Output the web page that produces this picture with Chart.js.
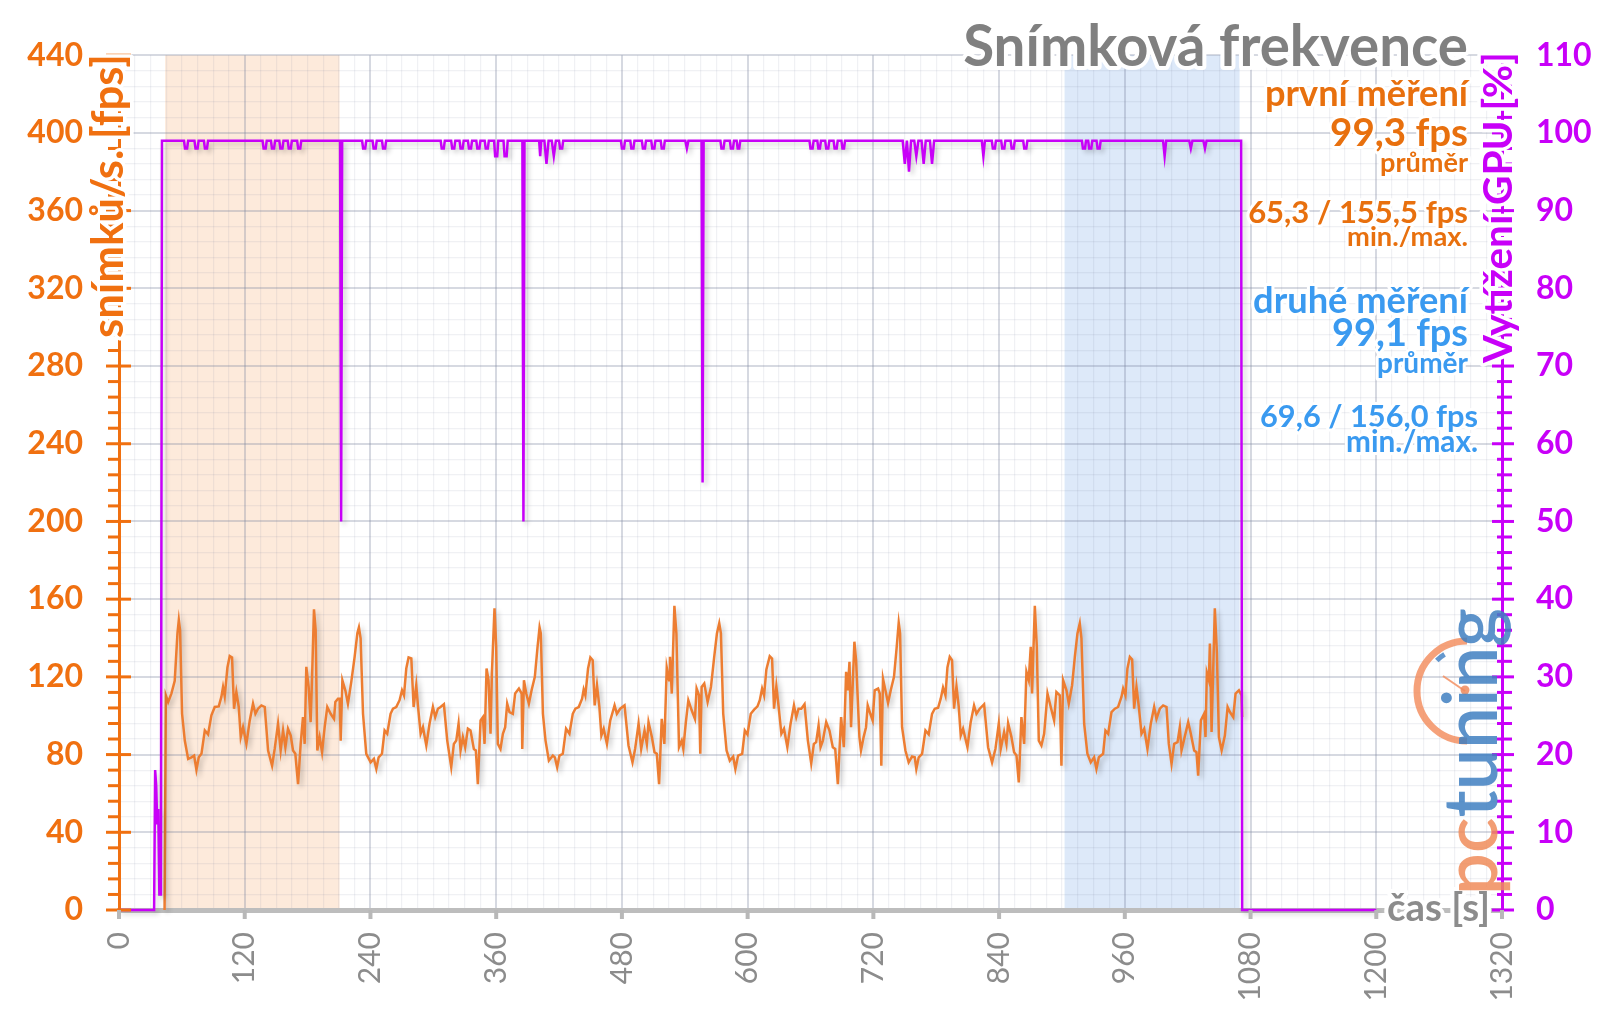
<!DOCTYPE html>
<html>
<head>
<meta charset="utf-8">
<script src="https://cdn.jsdelivr.net/npm/chart.js@4.4.1/dist/chart.umd.min.js"></script>
<style>
  html, body { margin: 0; background: #fff; }
  canvas { display: block; }
</style>
</head>
<body>
<canvas id="chart" width="1600" height="1009"></canvas>
<script>
/* DATA */
const timeTickLabels = [0, 120, 240, 360, 480, 600, 720, 840, 960, 1080, 1200, 1320];
const fpsTickLabels = [0, 40, 80, 120, 160, 200, 240, 280, 320, 360, 400, 440];
const gpuTickLabels = [0, 10, 20, 30, 40, 50, 60, 70, 80, 90, 100, 110];

const firstRun = [44, 210.5];      // shaded span, seconds
const secondRun = [902.5, 1069.5];

const chartTitle = 'Snímková frekvence';
const fpsAxisTitle = 'snímků/s. [fps]';
const gpuAxisTitle = 'Vytížení GPU [%]';
const timeAxisTitle = 'čas [s]';
const firstRunText = ['první měření', '99,3 fps', 'průměr', '65,3 / 155,5 fps', 'min./max.'];
const secondRunText = ['druhé měření', '99,1 fps', 'průměr', '69,6 / 156,0 fps', 'min./max.'];

// [time s, fps]
const fpsPoints = [
  [43.5,0],[44.7,110.5],[46.9,107],[50,111.4],[53.2,118],[55.8,142.4],[57.1,149.3],[58.3,144],
  [60.2,101],[62.8,87.2],[66,77.8],[69.1,78.6],[71.7,79.5],[73.9,72.1],[76.1,78.6],[78.7,80.4],
  [81.9,92.4],[85,90.4],[88.2,100.2],[91.4,104.5],[95.2,104.8],[97.7,109.7],[99.3,114.8],[100.9,110],
  [103.5,124.8],[105.7,130.7],[107.9,130],[109.8,103.6],[112,112.2],[114.3,104.5],[116.2,89],[118.4,94.1],
  [121.6,85.5],[124.8,97.6],[127.9,106.2],[130.2,101],[132.7,103.6],[135.9,105.3],[139.1,104.5],[142.3,82.1],
  [146.1,74.3],[148.6,82.9],[151.8,95.9],[154.3,82.1],[156.6,92.4],[158.8,83.8],[161.3,93.3],[163.9,89.8],
  [166.1,82.1],[168.3,80.4],[170.9,64.8],[173.4,85.5],[175.6,99.3],[177.2,85.5],[178.8,125.2],[181,114.8],
  [182.9,96.7],[184.2,118.3],[186.1,154.8],[187.7,144.1],[189.3,82.1],[191.5,89],[193.8,81.2],[196.3,94.1],
  [198.8,104.5],[202,101],[205.2,98.4],[206.5,107.1],[209,108.8],[210.6,108.8],[211.6,87.2],[213.2,118.3],
  [216,113.1],[218.5,106.2],[221.7,117.4],[224.9,130.3],[227.5,142.4],[229,145.5],[230.6,139.8],[232.9,101],
  [236,80.4],[240.2,76],[243.3,77.8],[245.6,72.6],[247.8,78.6],[251,80.4],[253.5,92.4],[256,90.7],
  [259.2,101],[261.5,103.6],[264.6,104.5],[267.8,108],[270.1,113.1],[272,110.5],[274.2,124.3],[276.4,130],
  [279,129.5],[281.2,104.5],[283.7,115.7],[285.3,105.3],[287.9,90.7],[290.1,94.1],[293.3,84.7],[296.4,95.9],
  [299.6,104.5],[301.8,99.3],[304.4,103.6],[306.9,104.5],[310.1,105.9],[313.3,87.2],[317.1,73.5],[319.6,85.5],
  [321.9,87.2],[324.1,95.9],[326,82.1],[328.2,89],[330.4,83.8],[333,93.3],[335.5,92.4],[338.7,82.9],
  [340.6,82.1],[342.5,64.8],[345.1,97.6],[347.3,99.3],[348.9,85.5],[350.8,124.3],[352.7,118.3],[354.6,90.7],
  [355.9,121.7],[358.4,155.3],[360,135.5],[361.6,85.5],[364.1,82.9],[366.4,90.7],[368.6,94.1],[370.5,106.2],
  [372.7,101.9],[375.9,101],[378.1,111.4],[381.7,114],[384.3,111.4],[384.9,82.9],[386.5,118.3],[388.7,111.4],
  [391.2,106.2],[393.8,113.1],[396.9,120],[399.5,135.5],[401.4,145.5],[402.6,142.4],[404.6,101],[407.1,87.2],
  [410.3,76.9],[414.1,79.5],[416,78.6],[418.2,73.5],[420.4,79.5],[423.6,80.4],[426.7,93.3],[429.9,90.7],
  [433.1,101],[435.6,103.6],[438.8,104.5],[442,108.8],[443.5,113.5],[445.1,110.5],[447.7,124.3],[449.9,130],
  [452.1,128.6],[454,105.3],[456.2,115.7],[458.5,104.5],[460.4,89.8],[462.6,93.3],[465.7,85.5],[468.9,97.6],
  [473,105.3],[475.2,101],[478.4,103.6],[482.5,105.3],[486.3,84.7],[490.1,76],[492.6,82.9],[495.9,95.9],
  [498.4,82.9],[501.6,92.4],[503.8,85.5],[505.4,96.7],[508.6,89],[511.1,81.2],[513.3,80.4],[515.5,64.8],
  [518,98.4],[520.5,85.5],[522.8,124.8],[525,118.3],[525.9,130.3],[527.6,111.4],[530.1,156.6],[532,142.4],
  [534.5,83.8],[537.1,87.2],[538.6,82.9],[540.9,95.9],[543.4,108],[546.6,102.8],[549.7,98.4],[551.3,114],
  [553.6,110.5],[554.8,80.4],[556.1,114.8],[558.6,116.6],[561.8,107.1],[565,114.8],[568.1,130.3],[570.7,142.4],
  [572.9,147.6],[574.5,142.4],[576.7,101],[579.9,82.1],[583,76.9],[586.2,79],[588.3,72.6],[590.9,79.5],
  [594.8,80.4],[597.3,92.4],[599.8,90.4],[603,101],[606.2,103.1],[609.4,104.8],[611.6,108],[613.8,114],
  [615.7,110.5],[617.9,123.8],[621.1,130.7],[623.3,129.5],[625.2,103.6],[627.4,115.2],[629.6,104.5],[632.2,90.7],
  [634.7,93.3],[637.9,83.8],[641,95.9],[644.2,105.3],[646.4,99.3],[648.6,103.6],[651.2,103.6],[654.3,105.9],
  [657.5,87.2],[660.7,75.5],[663.2,85.5],[665.4,86.4],[667.7,95],[669.6,83.8],[671.8,87.2],[675,96.7],
  [678.1,92.4],[681.3,83.8],[683.6,82.9],[686.1,64.8],[689.2,99.3],[691.8,83.8],[694,122.6],[695.6,113.1],
  [697.2,127.8],[698.7,94.1],[701.9,138.1],[703.5,128.6],[706.7,89],[708.2,82.1],[710.7,89],[713,94.1],
  [714.6,105.3],[717.1,101],[719.3,97.6],[721.3,113.1],[724.5,114],[726.1,111.4],[727.6,74.3],[729.2,119.1],
  [731.5,113.1],[734,106.6],[736.6,113.1],[739.7,120],[742.3,135.5],[744.2,147.9],[745.5,142.4],[747.4,94.1],
  [750.6,82.1],[753.7,76],[756.9,79],[759.5,78.6],[761,72.6],[763.3,78.6],[766.5,80.4],[769.7,92.4],
  [772.8,90.4],[776,101],[778.6,103.6],[781.8,104.1],[784.3,108.8],[786.5,114.5],[788.8,110.5],[790.7,124.8],
  [792.9,130.3],[795.1,128.6],[797,103.6],[799.3,115.2],[801.5,104.5],[803.4,89.8],[805.6,93.3],[809.8,83.8],
  [812.9,96.7],[816.1,105.3],[818.4,101],[821.5,103.6],[825.7,105.9],[829.5,83.8],[833.3,76],[836.5,82.9],
  [839.7,95.9],[841.6,82.9],[844.8,91.6],[847,85.5],[848.6,96.2],[851.8,89],[854.3,81.2],[856.6,79.5],
  [858.8,65.7],[861.3,99.3],[863.9,85.5],[866.1,122.6],[868.3,118.3],[870.2,135.5],[871.5,111.4],[874.1,156.6],
  [876,135.5],[877.9,87.2],[880.4,84.7],[883,90.7],[886.2,111.4],[889.3,104.5],[892.5,97.6],[894.7,112.2],
  [897.9,110.5],[899.5,74.3],[901.1,118.3],[904.3,113.1],[906.5,106.2],[909.7,115.7],[912.3,130.3],[914.8,142.4],
  [917,147.6],[918.6,139.8],[921.2,95.9],[924.3,80.4],[927.5,76],[930.7,78.6],[932.9,72.6],[935.2,78.6],
  [939.3,80.4],[941.5,92.4],[944.1,90.7],[947.3,101.9],[950.5,103.6],[953.6,104.5],[956.8,109.7],[958.4,114],
  [960.6,110.5],[962.5,124.3],[964.8,130.3],[967,129],[968.9,103.6],[971.1,114.8],[973.4,104.5],[975.9,90.7],
  [978.5,93.3],[981.6,82.9],[984.8,95.9],[988,104.5],[990.2,98.4],[993.4,103.6],[996.6,105.3],[999.8,104.5],
  [1002,85.5],[1004.6,75.2],[1007.1,85.5],[1010.3,86.4],[1012.5,94.1],[1014.1,82.1],[1016.7,88.1],[1020.5,96.7],
  [1023,90.7],[1026.2,82.1],[1028.4,81.2],[1030,69.1],[1032.6,97.6],[1035.7,101],[1037,89],[1038.3,122.1],
  [1040.2,118.3],[1041.2,137.2],[1042.8,91.6],[1045.9,155.3],[1047.9,132.1],[1049.8,89],[1052.4,82.1],[1055.5,89.8],
  [1058.1,104.5],[1060.3,101.9],[1063.5,99.3],[1065.7,111.4],[1068.9,113.1],[1071.4,110.5],[1072,99.3]
];

// [time s, GPU load %]
const gpuPoints = [
  [0,0],[33.5,0],[34.5,18],[35.5,16],[36.5,11],[37.5,13],[38.5,2],[40,2],[41,99],
  [62,99],[63,98],[65,98],[66,99],[72,99],[73,98],[75,98],[76,99],[81,99],[82,98],[84,98],[85,99],
  [137,99],[138,98],[140,98],[141,99],[145,99],[146,98],[148,98],[149,99],[153,99],[154,98],[156,98],[157,99],
  [161,99],[162,98],[164,98],[165,99],[170,99],[171,98],[173,98],[174,99],
  [211,99],[212,50],[213,99],
  [232,99],[233,98],[235,98],[236,99],[242,99],[243,98],[245,98],[246,99],[251,99],[252,98],[254,98],[255,99],
  [307,99],[308,98],[310,98],[311,99],[317,99],[318,98],[320,98],[321,99],[325,99],[326,98],[328,98],[329,99],
  [333,99],[334,98],[336,98],[337,99],[341,99],[342,98],[344,98],[345,99],[349,99],[350,98],[352,98],[353,99],
  [358,99],[359,97],[361,97],[362,99],[367,99],[368,97],[370,97],[371,99],
  [385,99],[386,50],[387,99],
  [401,99],[402,97],[403,99],[406,99],[408,96],[410,99],[413,99],[415,97],[417,99],[420,99],[421,98],[423,98],[424,99],
  [479,99],[480,98],[482,98],[483,99],[488,99],[489,98],[491,98],[492,99],[499,99],[500,98],[502,98],[503,99],
  [508,99],[509,98],[511,98],[512,99],[517,99],[518,98],[520,98],[521,99],
  [540.5,99],[542,98],[543.5,99],
  [556,99],[557,55],[558,99],
  [574,99],[575,98],[577,98],[578,99],[583,99],[584,98],[586,98],[587,99],[589.5,99],[590.5,98],[592,98],[593,99],
  [659,99],[660,98],[662,98],[663,99],[666.5,99],[667.5,98],[669,98],[670,99],[674,99],[675,98],[677,98],[678,99],
  [682,99],[683,98],[685,98],[686,99],[689.5,99],[690.5,98],[692,98],[693,99],
  [748,99],[750,96],[752,99],[754,95],[756,99],[759,99],[761,97],[763,99],[766,99],[768,96],[770,99],[774,99],[776,96],[778,99],
  [823.5,99],[825,97],[826.5,99],[833,99],[834,98],[836,98],[837,99],[842,99],[843,98],[845,98],[846,99],
  [851,99],[852,98],[854,98],[855,99],[863,99],[864,98],[866,98],[867,99],
  [919,99],[920,98],[922,98],[923,99],[925,99],[926,98],[928,98],[929,99],[933,99],[934,98],[936,98],[937,99],
  [996.5,99],[998,97],[999.5,99],
  [1021.5,99],[1023,98],[1024.5,99],[1035,99],[1036.5,98],[1038,99],
  [1071,99],[1072,0],[1200,0]
];

/* STYLE */
const FONT = 'Lato, "Open Sans", sans-serif';
const ORANGE = '#f07010';
const ORANGE_TEXT = '#e8700e';
const ORANGE_LINE = '#ed7d31';
const BLUE_TEXT = '#3a9af0';
const MAGENTA = '#c800f8';
const GRID_MAJOR = 'rgba(120,130,155,0.30)';
const GRID_MINOR = 'rgba(120,130,155,0.11)';

const toXY = arr => arr.map(([x, y]) => ({ x, y }));

function steps(max, step) {
  const out = [];
  for (let v = 0; v <= max; v += step) out.push({ value: v });
  return out;
}

/* text helpers */
function fitFont(ctx, text, weight, width) {
  ctx.font = `${weight} 100px ${FONT}`;
  const size = 100 * width / ctx.measureText(text).width;
  ctx.font = `${weight} ${size}px ${FONT}`;
  return size;
}

function haloText(ctx, text, x, y, color, halo = 7) {
  ctx.lineJoin = 'round';
  ctx.strokeStyle = '#fff';
  ctx.lineWidth = halo;
  ctx.strokeText(text, x, y);
  ctx.fillStyle = color;
  ctx.fillText(text, x, y);
}

// right edge, baseline, width
const firstRunLayout = [[1468, 106, 203], [1468, 146, 138], [1468, 172, 88], [1468, 223, 220], [1468, 246, 121]];
const secondRunLayout = [[1468, 313, 215], [1468, 346, 136], [1468, 373, 91], [1478, 427, 218], [1478, 452, 132]];

function drawRunBlock(ctx, lines, layout, color) {
  lines.forEach((t, i) => {
    const [x, y, w] = layout[i];
    fitFont(ctx, t, 'bold', w);
    ctx.textAlign = 'right';
    ctx.textBaseline = 'alphabetic';
    haloText(ctx, t, x, y, color, 6);
  });
}

function drawVertical(ctx, text, x, top, len, color) {
  ctx.save();
  ctx.translate(x, top);
  ctx.rotate(-Math.PI / 2);
  fitFont(ctx, text, 'bold', len);
  ctx.textAlign = 'right';
  ctx.textBaseline = 'alphabetic';
  haloText(ctx, text, 0, 0, color, 7);
  ctx.restore();
}

function drawLogo(ctx) {
  ctx.save();
  ctx.globalAlpha = 0.85;
  const cx = 1467, cy = 691;
  ctx.lineCap = 'butt';
  ctx.strokeStyle = '#f39063';
  ctx.lineWidth = 7;
  ctx.beginPath(); ctx.arc(cx, cy, 50, -Math.PI / 2, Math.PI / 2, true); ctx.stroke();
  ctx.strokeStyle = '#4a86c5';
  ctx.lineWidth = 5;
  ctx.beginPath(); ctx.arc(cx, cy, 43, -2.35, -2.12); ctx.stroke();
  ctx.strokeStyle = '#f39063';
  ctx.lineWidth = 2;
  ctx.beginPath(); ctx.moveTo(cx - 2, cy); ctx.lineTo(cx - 24, cy - 15); ctx.stroke();
  ctx.fillStyle = '#f08a5d';
  ctx.beginPath(); ctx.arc(cx - 2, cy - 1, 4.5, 0, Math.PI * 2); ctx.fill();

  ctx.translate(1497, 895);
  ctx.rotate(-Math.PI / 2);
  fitFont(ctx, 'pctuning', '600', 287);
  ctx.textAlign = 'left';
  ctx.textBaseline = 'alphabetic';
  ctx.fillStyle = '#f08c5a';
  ctx.fillText('pc', 0, 0);
  const pw = ctx.measureText('pc').width;
  ctx.fillStyle = '#3f7fc1';
  ctx.fillText('tuning', pw, 0);
  ctx.restore();
}

const decor = {
  id: 'decor',
  beforeDraw(chart) {
    const { ctx, chartArea: a, scales: { x } } = chart;
    ctx.save();
    ctx.fillStyle = '#fdeadb';
    let x0 = x.getPixelForValue(firstRun[0]), x1 = x.getPixelForValue(firstRun[1]);
    ctx.fillRect(x0, a.top, x1 - x0, a.bottom - a.top);
    ctx.fillStyle = '#dde9f9';
    x0 = x.getPixelForValue(secondRun[0]); x1 = x.getPixelForValue(secondRun[1]);
    ctx.fillRect(x0, a.top, x1 - x0, a.bottom - a.top);
    ctx.restore();
  },
  beforeDatasetsDraw(chart) {
    const ctx = chart.ctx;
    ctx.save();
    ctx.shadowColor = 'rgba(0,0,0,0.2)';
    ctx.shadowBlur = 5;
    ctx.shadowOffsetX = 3;
    ctx.shadowOffsetY = 3;
  },
  afterDatasetsDraw(chart) {
    chart.ctx.restore();
  },
  afterDraw(chart) {
    const { ctx, chartArea: a, scales: { x, yFps, yGpu } } = chart;
    ctx.save();
    ctx.lineCap = 'butt';

    // left axis tick marks
    ctx.strokeStyle = ORANGE;
    ctx.lineWidth = 3;
    for (let v = 0; v <= 440; v += 8) {
      const y = yFps.getPixelForValue(v);
      const major = v % 40 === 0;
      ctx.beginPath();
      ctx.moveTo(major ? a.left - 13 : a.left - 11, y);
      ctx.lineTo(major ? a.left + 12 : a.left, y);
      ctx.stroke();
    }
    // right axis tick marks
    ctx.strokeStyle = MAGENTA;
    for (let v = 0; v <= 110; v += 2) {
      const y = yGpu.getPixelForValue(v);
      const major = v % 10 === 0;
      ctx.beginPath();
      ctx.moveTo(major ? a.right - 10 : a.right - 5, y);
      ctx.lineTo(major ? a.right + 12 : a.right + 10, y);
      ctx.stroke();
    }
    // time axis tick marks
    ctx.strokeStyle = '#b8b8b8';
    ctx.lineWidth = 4;
    timeTickLabels.forEach(v => {
      const px = x.getPixelForValue(v);
      ctx.beginPath();
      ctx.moveTo(px, a.bottom);
      ctx.lineTo(px, a.bottom + 9);
      ctx.stroke();
    });

    // titles
    fitFont(ctx, chartTitle, 'bold', 505);
    ctx.textAlign = 'right';
    ctx.textBaseline = 'alphabetic';
    haloText(ctx, chartTitle, 1468, 66, '#808080', 8);

    drawVertical(ctx, fpsAxisTitle, 123, 54, 284, ORANGE);
    drawVertical(ctx, gpuAxisTitle, 1512, 52, 311, MAGENTA);

    fitFont(ctx, timeAxisTitle, 'bold', 103);
    ctx.textAlign = 'right';
    haloText(ctx, timeAxisTitle, 1490, 921, '#8c8c8c', 8);

    drawRunBlock(ctx, firstRunText, firstRunLayout, ORANGE_TEXT);
    drawRunBlock(ctx, secondRunText, secondRunLayout, BLUE_TEXT);
    ctx.restore();

    drawLogo(ctx);
  }
};

new Chart(document.getElementById('chart'), {
  type: 'line',
  data: {
    datasets: [
      {
        label: 'Vytížení GPU',
        data: toXY(gpuPoints),
        yAxisID: 'yGpu',
        borderColor: MAGENTA,
        borderWidth: 2.5,
        pointRadius: 0,
        tension: 0,
        clip: false,
        order: 0
      },
      {
        label: 'snímků/s.',
        data: toXY(fpsPoints),
        yAxisID: 'yFps',
        borderColor: ORANGE_LINE,
        borderWidth: 2.5,
        pointRadius: 0,
        tension: 0,
        clip: false,
        order: 1
      }
    ]
  },
  options: {
    responsive: false,
    animation: false,
    events: [],
    layout: { padding: { top: 55, left: 0, right: 0, bottom: 0 } },
    plugins: { legend: { display: false }, tooltip: { enabled: false } },
    scales: {
      x: {
        type: 'linear',
        min: 0,
        max: 1320,
        afterBuildTicks: s => { s.ticks = steps(1320, 15); },
        afterFit: s => { s.height = 99; },
        ticks: {
          autoSkip: false,
          minRotation: 90,
          maxRotation: 90,
          padding: 22,
          color: '#8c8c8c',
          font: { family: FONT, size: 30 },
          callback: v => timeTickLabels.includes(v) ? String(v) : ''
        },
        grid: {
          drawTicks: false,
          color: c => (c.tick && c.tick.value % 120 === 0) ? GRID_MAJOR : GRID_MINOR,
          lineWidth: c => (c.tick && c.tick.value % 120 === 0) ? 2 : 1.2
        },
        border: { color: '#bdbdbd', width: 5 }
      },
      yFps: {
        type: 'linear',
        position: 'left',
        min: 0,
        max: 440,
        afterBuildTicks: s => { s.ticks = steps(440, 8); },
        afterFit: s => { s.width = 119; },
        ticks: {
          autoSkip: false,
          padding: 36,
          color: ORANGE,
          font: { family: FONT, size: 32, weight: 'bold' },
          callback: v => fpsTickLabels.includes(v) ? String(v) : ''
        },
        grid: {
          drawTicks: false,
          color: c => (c.tick && c.tick.value % 40 === 0) ? GRID_MAJOR : GRID_MINOR,
          lineWidth: c => (c.tick && c.tick.value % 40 === 0) ? 2 : 1.2
        },
        border: { color: ORANGE, width: 3 }
      },
      yGpu: {
        type: 'linear',
        position: 'right',
        min: 0,
        max: 110,
        afterBuildTicks: s => { s.ticks = gpuTickLabels.map(v => ({ value: v })); },
        afterFit: s => { s.width = 98; },
        ticks: {
          autoSkip: false,
          padding: 34,
          color: MAGENTA,
          font: { family: FONT, size: 32, weight: 'bold' },
          callback: v => String(v)
        },
        grid: { drawOnChartArea: false, drawTicks: false },
        border: { color: MAGENTA, width: 3 }
      }
    }
  },
  plugins: [decor]
});
</script>
</body>
</html>
